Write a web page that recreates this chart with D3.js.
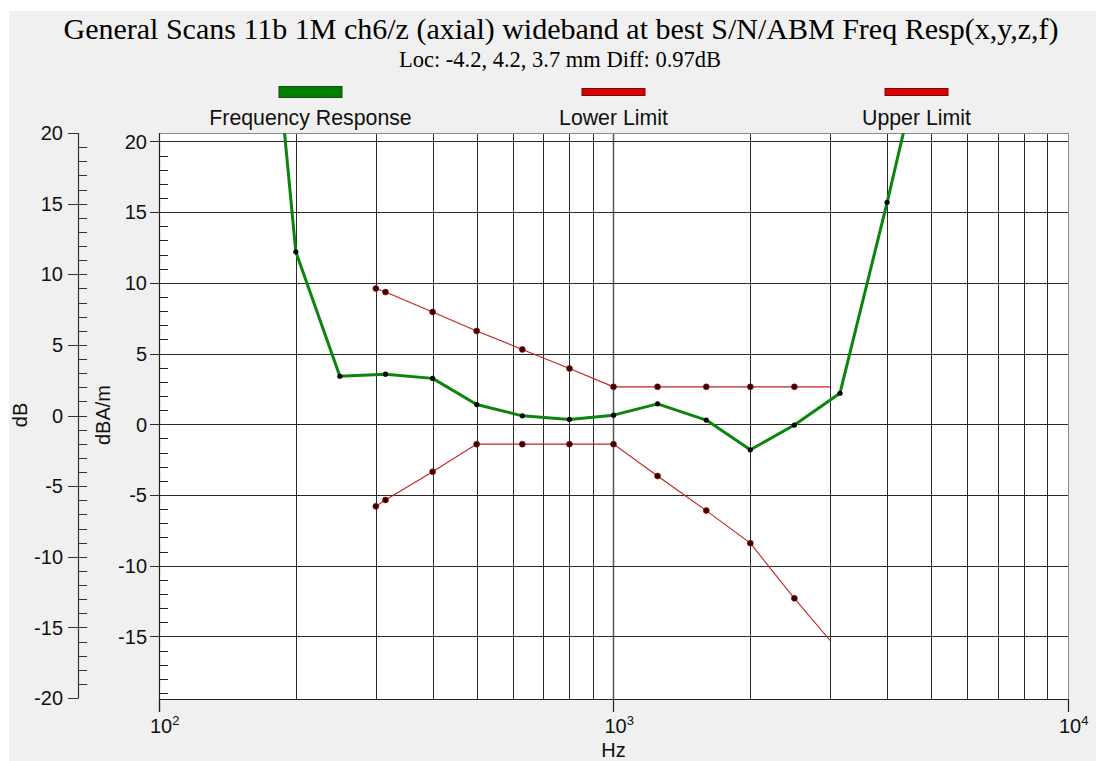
<!DOCTYPE html>
<html>
<head>
<meta charset="utf-8">
<script src="https://cdn.jsdelivr.net/npm/d3@7"></script>
<style>
  html, body { margin: 0; padding: 0; background: #ffffff; }
  svg { display: block; }
</style>
</head>
<body>
<svg id="chart" width="1096" height="761"></svg>
<script>
// ---- data ----
const titleText = "General Scans 11b 1M ch6/z (axial) wideband at best S/N/ABM Freq Resp(x,y,z,f)";
const subtitleText = "Loc: -4.2, 4.2, 3.7 mm Diff: 0.97dB";
const legendLabels = ["Frequency Response", "Lower Limit", "Upper Limit"];

const respFreq = [160, 200, 250, 315, 400, 500, 630, 800, 1000, 1250, 1600, 2000, 2500, 3150, 4000, 5000];
const respDb   = [45, 12.2, 3.4, 3.55, 3.25, 1.4, 0.6, 0.35, 0.65, 1.45, 0.3, -1.8, -0.05, 2.2, 15.7, 29];

const upperFreq = [300, 315, 400, 500, 630, 800, 1000, 1250, 1600, 2000, 2500, 3000];
const upperDb   = [9.6, 9.35, 7.95, 6.6, 5.3, 3.95, 2.65, 2.65, 2.65, 2.65, 2.65, 2.65];
const upperMarked = [true, true, true, true, true, true, true, true, true, true, true, false];

const lowerFreq = [300, 315, 400, 500, 630, 800, 1000, 1250, 1600, 2000, 2500, 3000];
const lowerDb   = [-5.8, -5.35, -3.35, -1.4, -1.4, -1.4, -1.4, -3.65, -6.1, -8.4, -12.3, -15.3];
const lowerMarked = [true, true, true, true, true, true, true, true, true, true, true, false];

const xDomain = [100, 10000];
const xDecades = [100, 1000, 10000];
const xDecadeExp = ["2", "3", "4"];
const yDomain = [-19.42, 20.6];        // inner dBA/m axis extent
const yMajorTicks = [-15, -10, -5, 0, 5, 10, 15, 20];
const leftDomain = [-20, 20];          // outer dB axis
const leftMajorTicks = [-20, -15, -10, -5, 0, 5, 10, 15, 20];

// ---- layout ----
const svg = d3.select("#chart");
const L = 159, R = 1068, T = 133, B = 699;
const x = d3.scaleLog().domain(xDomain).range([L, R]);
const y = d3.scaleLinear().domain(yDomain).range([B, T]);
const yl = d3.scaleLinear().domain(leftDomain).range([698, 133]);
const sans = "Liberation Sans, Arial, sans-serif";
const serif = "Liberation Serif, 'Times New Roman', serif";
const gridColor = "#2a2a2a";

svg.append("rect").attr("x", 9).attr("y", 11).attr("width", 1096 - 9).attr("height", 761 - 11).attr("fill", "#f0f0f0");

// titles
svg.append("text").attr("x", 561).attr("y", 39).attr("text-anchor", "middle")
  .attr("font-family", serif).attr("font-size", 30).attr("fill", "#000").text(titleText);
svg.append("text").attr("x", 560).attr("y", 67).attr("text-anchor", "middle")
  .attr("font-family", serif).attr("font-size", 22.5).attr("fill", "#000").text(subtitleText);

// legend
const legendX = [310.5, 613.5, 916.5];
const legendFill = ["#008000", "#e00000", "#e00000"];
const legendStroke = ["#1f3f1f", "#6a1010", "#6a1010"];
const legendH = [11, 7, 7];
legendLabels.forEach((lab, i) => {
  svg.append("rect").attr("x", legendX[i] - 31.5).attr("y", 92 - legendH[i] / 2)
    .attr("width", 63).attr("height", legendH[i])
    .attr("fill", legendFill[i]).attr("stroke", legendStroke[i]).attr("stroke-width", 1);
  svg.append("text").attr("x", legendX[i]).attr("y", 125).attr("text-anchor", "middle")
    .attr("font-family", sans).attr("font-size", 21.3).attr("fill", "#111").text(lab);
});

// plot area
svg.append("rect").attr("x", L).attr("y", T).attr("width", R - L).attr("height", B - T).attr("fill", "#ffffff");

// vertical grid
const vGrid = [];
[100, 1000].forEach(d => { for (let k = 2; k <= 9; k++) vGrid.push(d * k); });
vGrid.push(1000);
svg.append("g").selectAll("line").data(vGrid).join("line")
  .attr("x1", d => Math.round(x(d)) + 0.5).attr("x2", d => Math.round(x(d)) + 0.5)
  .attr("y1", T).attr("y2", B)
  .attr("stroke", d => d === 1000 ? "#555" : gridColor).attr("stroke-width", d => d === 1000 ? 1.5 : 1);

// horizontal grid
svg.append("g").selectAll("line").data(yMajorTicks).join("line")
  .attr("x1", L - 9).attr("x2", R)
  .attr("y1", d => Math.round(y(d)) + 0.5).attr("y2", d => Math.round(y(d)) + 0.5)
  .attr("stroke", gridColor).attr("stroke-width", 1);

// plot border
svg.append("rect").attr("x", L + 0.5).attr("y", T + 0.5).attr("width", R - L).attr("height", B - T)
  .attr("fill", "none").attr("stroke", "#8a8a8a").attr("stroke-width", 1);
svg.append("line").attr("x1", L).attr("x2", R + 0.5).attr("y1", B + 0.5).attr("y2", B + 0.5)
  .attr("stroke", "#222").attr("stroke-width", 1.2);

// inner y axis
svg.append("line").attr("x1", L + 0.5).attr("x2", L + 0.5).attr("y1", T).attr("y2", 712)
  .attr("stroke", "#222").attr("stroke-width", 1.2);
const innerMinor = d3.range(-19, 21).filter(v => v % 5 !== 0);
svg.append("g").selectAll("line").data(innerMinor).join("line")
  .attr("x1", L).attr("x2", L + 9)
  .attr("y1", d => Math.round(y(d)) + 0.5).attr("y2", d => Math.round(y(d)) + 0.5)
  .attr("stroke", "#222");
svg.append("g").selectAll("text").data(yMajorTicks).join("text")
  .attr("x", 147).attr("y", d => y(d)).attr("dy", "0.36em").attr("text-anchor", "end")
  .attr("font-family", sans).attr("font-size", 20).attr("fill", "#111").text(d => d);

// outer y axis (dB)
svg.append("line").attr("x1", 78.5).attr("x2", 78.5).attr("y1", yl(20)).attr("y2", yl(-20))
  .attr("stroke", "#333").attr("stroke-width", 1.2);
const leftMinor = d3.range(-19, 20).filter(v => v % 5 !== 0);
svg.append("g").selectAll("line").data(leftMinor).join("line")
  .attr("x1", 78).attr("x2", 87)
  .attr("y1", d => Math.round(yl(d)) + 0.5).attr("y2", d => Math.round(yl(d)) + 0.5)
  .attr("stroke", "#333");
svg.append("g").selectAll("line").data(leftMajorTicks).join("line")
  .attr("x1", 68).attr("x2", d => Math.abs(d) === 20 ? 78.5 : 87)
  .attr("y1", d => Math.round(yl(d)) + 0.5).attr("y2", d => Math.round(yl(d)) + 0.5)
  .attr("stroke", "#333");
svg.append("g").selectAll("text").data(leftMajorTicks).join("text")
  .attr("x", 63).attr("y", d => yl(d)).attr("dy", "0.36em").attr("text-anchor", "end")
  .attr("font-family", sans).attr("font-size", 20).attr("fill", "#111").text(d => d);

// axis titles
svg.append("text").attr("transform", "translate(27,415) rotate(-90)").attr("text-anchor", "middle")
  .attr("font-family", sans).attr("font-size", 20).attr("fill", "#111").text("dB");
svg.append("text").attr("transform", "translate(110,415) rotate(-90)").attr("text-anchor", "middle")
  .attr("font-family", sans).attr("font-size", 20).attr("fill", "#111").text("dBA/m");

// x axis decade ticks & labels
svg.append("g").selectAll("line").data(xDecades).join("line")
  .attr("x1", d => Math.round(x(d)) + 0.5).attr("x2", d => Math.round(x(d)) + 0.5)
  .attr("y1", B).attr("y2", 712).attr("stroke", "#222").attr("stroke-width", 1.2);
xDecades.forEach((d, i) => {
  const t = svg.append("text").attr("x", x(d) - 9).attr("y", 733)
    .attr("font-family", sans).attr("font-size", 20).attr("fill", "#111");
  t.append("tspan").text("10");
  t.append("tspan").attr("dy", -8).attr("font-size", 13).text(xDecadeExp[i]);
});
svg.append("text").attr("x", 613.5).attr("y", 757).attr("text-anchor", "middle")
  .attr("font-family", sans).attr("font-size", 20).attr("fill", "#111").text("Hz");

// clip
svg.append("clipPath").attr("id", "plotclip").append("rect")
  .attr("x", L).attr("y", T).attr("width", R - L).attr("height", B - T);
const plot = svg.append("g").attr("clip-path", "url(#plotclip)");

const line = d3.line().x(d => x(d[0])).y(d => y(d[1]));

// limits
const upperPts = upperFreq.map((f, i) => [f, upperDb[i], upperMarked[i]]);
const lowerPts = lowerFreq.map((f, i) => [f, lowerDb[i], lowerMarked[i]]);
[upperPts, lowerPts].forEach(pts => {
  plot.append("path").datum(pts).attr("d", line).attr("fill", "none")
    .attr("stroke", "#c42020").attr("stroke-width", 1.1);
  plot.append("g").selectAll("circle").data(pts.filter(p => p[2])).join("circle")
    .attr("cx", d => x(d[0])).attr("cy", d => y(d[1])).attr("r", 3)
    .attr("fill", "#3a0000").attr("stroke", "#a01010").attr("stroke-width", 0.6);
});

// response
const respPts = respFreq.map((f, i) => [f, respDb[i]]);
plot.append("path").datum(respPts).attr("d", line).attr("fill", "none")
  .attr("stroke", "#0b850b").attr("stroke-width", 3).attr("stroke-linejoin", "round");
plot.append("g").selectAll("circle").data(respPts).join("circle")
  .attr("cx", d => x(d[0])).attr("cy", d => y(d[1])).attr("r", 2.6)
  .attr("fill", "#000");
</script>
</body>
</html>
